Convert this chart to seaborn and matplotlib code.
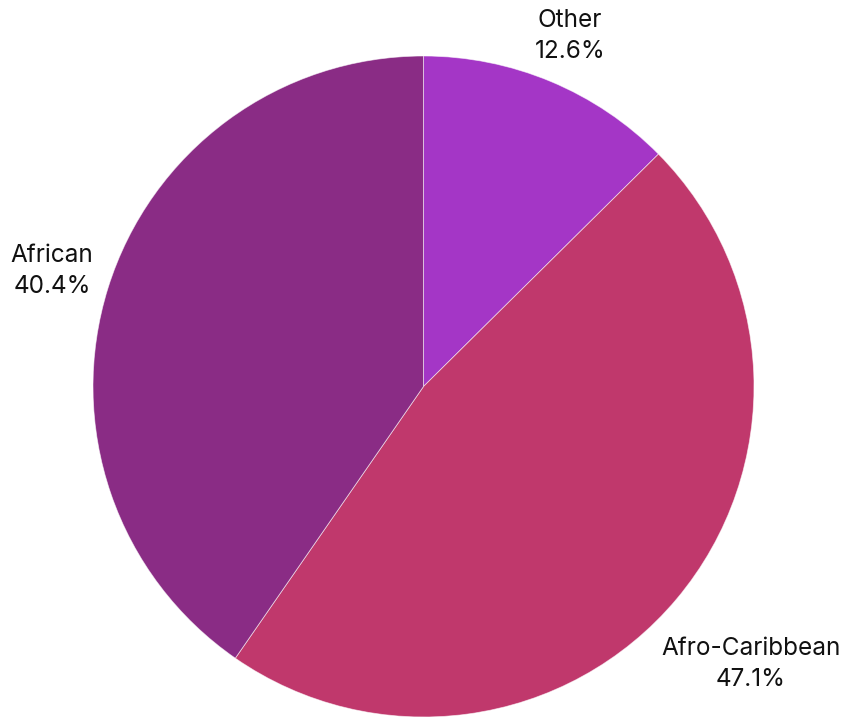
import matplotlib
matplotlib.use("Agg")
import matplotlib.pyplot as plt
import seaborn as sns
import numpy as np

categories = ["Other", "Afro-Caribbean", "African"]
values = [12.6, 47.1, 40.4]
colors = ["#A436C6", "#C0386C", "#8A2C85"]
label_pos = [(570, 681), (751, 53), (52, 446)]  # label centers in pixel space (y from bottom)

sns.set_theme(style="white")
plt.rcParams["font.family"] = ["Inter", "DejaVu Sans"]

W, H = 841, 717
fig = plt.figure(figsize=(W / 100, H / 100), dpi=100)
ax = fig.add_axes([0, 0, 1, 1])

ax.pie(values, colors=colors, startangle=90, counterclock=False,
       center=(423.5, H - 386.5), radius=330.5,
       wedgeprops=dict(edgecolor=(1, 1, 1, 0.6), linewidth=0.6))

for cat, val, (x, y) in zip(categories, values, label_pos):
    ax.text(x, y, f"{cat}\n{val:.1f}%", ha="center", va="center",
            fontsize=17.5, linespacing=1.4, color="#111111")

ax.set_xlim(0, W)
ax.set_ylim(0, H)
ax.set_aspect("auto")
ax.axis("off")
fig.savefig("out.png", dpi=100)
